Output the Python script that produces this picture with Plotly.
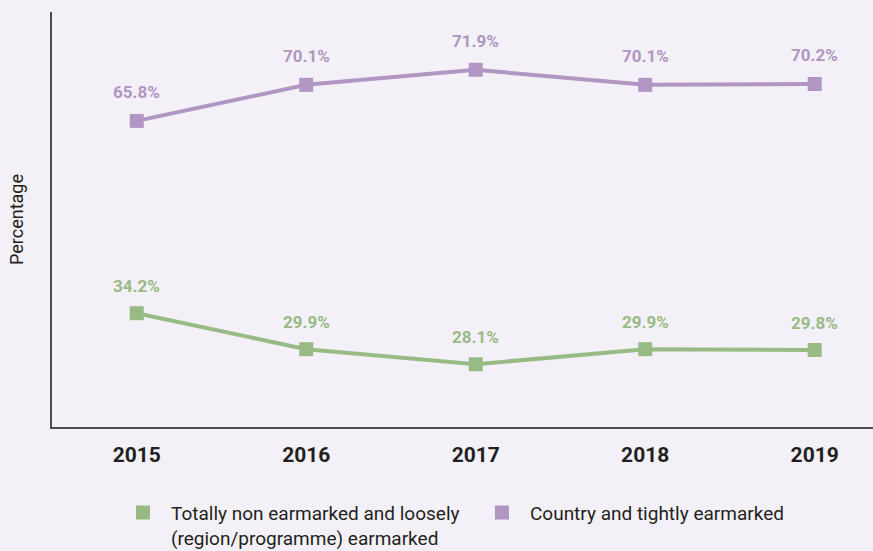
import plotly.graph_objects as go

years = ["2015", "2016", "2017", "2018", "2019"]
loose_vals = [34.2, 29.9, 28.1, 29.9, 29.8]
tight_vals = [65.8, 70.1, 71.9, 70.1, 70.2]
loose_name = "Totally non earmarked and loosely&nbsp;&nbsp;<br>(region/programme) earmarked"
tight_name = "Country and tightly earmarked"

GREEN = "#98ba84"
PURPLE = "#b195c2"
BG = "#f3f1f7"
DARK = "#231f20"
FONT = "Roboto, sans-serif"

fig = go.Figure()

fig.add_trace(go.Scatter(x=years, y=loose_vals, mode="lines+markers",
                         line=dict(color=GREEN, width=4),
                         marker=dict(symbol="square", size=14, color=GREEN),
                         showlegend=False, yaxis="y"))
fig.add_trace(go.Scatter(x=years, y=tight_vals, mode="lines+markers",
                         line=dict(color=PURPLE, width=4),
                         marker=dict(symbol="square", size=14, color=PURPLE),
                         showlegend=False, yaxis="y2"))

# legend-only entries (square symbol only)
fig.add_trace(go.Scatter(x=[None], y=[None], mode="markers", name=loose_name,
                         marker=dict(symbol="square", size=14, color=GREEN)))
fig.add_trace(go.Scatter(x=[None], y=[None], mode="markers", name=tight_name,
                         marker=dict(symbol="square", size=14, color=PURPLE)))

for i, v in enumerate(loose_vals):
    fig.add_annotation(x=i, y=v, xref="x", yref="y", text=f"<b>{v:.1f}%</b>", showarrow=False,
                       yshift=27, font=dict(family=FONT, size=17, color=GREEN))
for i, v in enumerate(tight_vals):
    fig.add_annotation(x=i, y=v, xref="x", yref="y2", text=f"<b>{v:.1f}%</b>", showarrow=False,
                       yshift=29, font=dict(family=FONT, size=17, color=PURPLE))

fig.update_layout(
    width=873, height=551,
    margin=dict(l=52, r=0, t=12, b=124),
    paper_bgcolor=BG, plot_bgcolor=BG,
    font=dict(family=FONT, color=DARK),
    xaxis=dict(type="category", range=[-0.5, 4.344], showgrid=False,
               showline=True, linecolor="#4d4d4d", linewidth=1.5,
               ticks="", tickfont=dict(family=FONT, size=21, color=DARK),
               tickprefix="<b>", ticksuffix="</b>", zeroline=False,
               ticklabelstandoff=8),
    yaxis=dict(range=[20.6, 70.2], showgrid=False, showticklabels=False,
               showline=True, linecolor="#4d4d4d", linewidth=1.5, zeroline=False,
               ticks="",
               title=dict(text="Percentage", font=dict(family=FONT, size=18, color=DARK),
                          standoff=22)),
    yaxis2=dict(range=[29.24, 78.8], overlaying="y", showgrid=False,
                showticklabels=False, showline=False, zeroline=False, visible=False),
    legend=dict(orientation="h", x=0.0767, y=0.104, xref="paper", yref="container",
                xanchor="left", yanchor="top",
                font=dict(family=FONT, size=19, color=DARK), valign="top",
                bgcolor="rgba(0,0,0,0)", itemwidth=46, tracegroupgap=0),
    showlegend=True,
)

fig.write_html("out.html", config={"displayModeBar": False},
               post_script="document.body.style.margin='0';document.body.style.padding='0';")
